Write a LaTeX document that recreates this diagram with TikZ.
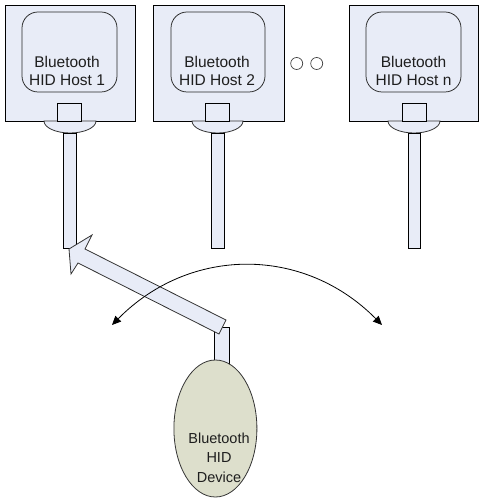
\documentclass[tikz,border=0pt]{standalone}
\usepackage{fontspec}
\setmainfont{Liberation Sans}
\usetikzlibrary{arrows.meta,shapes.geometric}
\definecolor{lav}{RGB}{232,236,247}
\definecolor{olivegray}{RGB}{221,223,204}
\definecolor{txt}{RGB}{30,30,30}
\tikzset{
  hostbox/.style={draw=black, fill=lav, line width=0.8pt, minimum height=116pt, inner sep=0pt},
  innerbox/.style={draw=black!85, rounded corners=16pt, line width=0.75pt, minimum width=95pt, minimum height=80pt, inner sep=0pt},
  hosttext/.style={align=center, inner sep=0pt, text=txt, font=\fontsize{15.5}{18}\selectfont},
  plug/.style={draw=black, fill=lav, line width=0.8pt, minimum width=24pt, minimum height=18pt, inner sep=0pt},
  pole/.style={draw=black, fill=lav, line width=0.8pt},
  tab/.style={draw=black!80, fill=lav, line width=0.8pt},
  dots/.style={draw=black!75, line width=0.7pt},
  bigarrow/.style={draw=black!80, fill=lav, line width=0.8pt},
  device/.style={draw=black!80, fill=olivegray, ellipse, minimum width=83pt, minimum height=137pt, inner sep=0pt, line width=0.8pt},
  devtext/.style={align=center, inner sep=0pt, text=txt, font=\fontsize{14.5}{19.5}\selectfont},
  swing/.style={draw=black, line width=0.8pt, {Triangle[length=9pt,width=8pt]}-{Triangle[length=9pt,width=8pt]}}
}
\begin{document}
\begin{tikzpicture}[x=1pt,y=-1pt]
\useasboundingbox (0,0) rectangle (482,502);

% ---- Host 1
\node[hostbox, minimum width=130pt] (h1) at (70,63) {};
\draw[tab] (44,121) arc[start angle=180,end angle=0,x radius=26,y radius=12] -- cycle;
\node[innerbox] (i1) at (69.5,52) {};
\node[hosttext] (t1) at (67,70.5) {Bluetooth\\HID Host 1};
\node[plug] (p1) at (69,112) {};
\draw[pole] (63.5,133) rectangle (76.5,248);

% ---- Host 2
\node[hostbox, minimum width=131pt] (h2) at (218.5,63) {};
\draw[tab] (192,121) arc[start angle=180,end angle=0,x radius=25.5,y radius=12] -- cycle;
\node[innerbox, minimum width=94pt] (i2) at (218,52) {};
\node[hosttext] (t2) at (217,70.5) {Bluetooth\\HID Host 2};
\node[plug] (p2) at (217,112) {};
\draw[pole] (211.5,133) rectangle (224,248);

% ---- dots
\draw[dots] (296.7,63.5) circle[radius=6];
\draw[dots] (316.7,63.5) circle[radius=6];

% ---- Host n
\node[hostbox, minimum width=129pt] (hn) at (413.5,63) {};
\draw[tab] (388,121) arc[start angle=180,end angle=0,x radius=26,y radius=12] -- cycle;
\node[innerbox] (in) at (413.5,52) {};
\node[hosttext] (tn) at (413.5,70.5) {Bluetooth\\HID Host n};
\node[plug] (pn) at (414.5,112) {};
\draw[pole] (408,133) rectangle (420.5,248);

% ---- Device
\draw[pole] (214.3,327) rectangle (229.3,365);
\node[device] (dev) at (215.4,428.5) {};
\node[devtext] (dt) at (219,457.4) {Bluetooth\\HID\\Device};

% ---- big block arrow (connection)
\draw[bigarrow] (69,249) -- (92,235) -- (85,249) -- (226,320) -- (219,334) -- (78,263) -- (71,274) -- cycle;

% ---- swing arrow
\coordinate (sl) at (112,325);
\coordinate (sr) at (382,325);
\draw[swing] (sl) .. controls (190,246) and (304,246) .. (sr);
\end{tikzpicture}
\end{document}
